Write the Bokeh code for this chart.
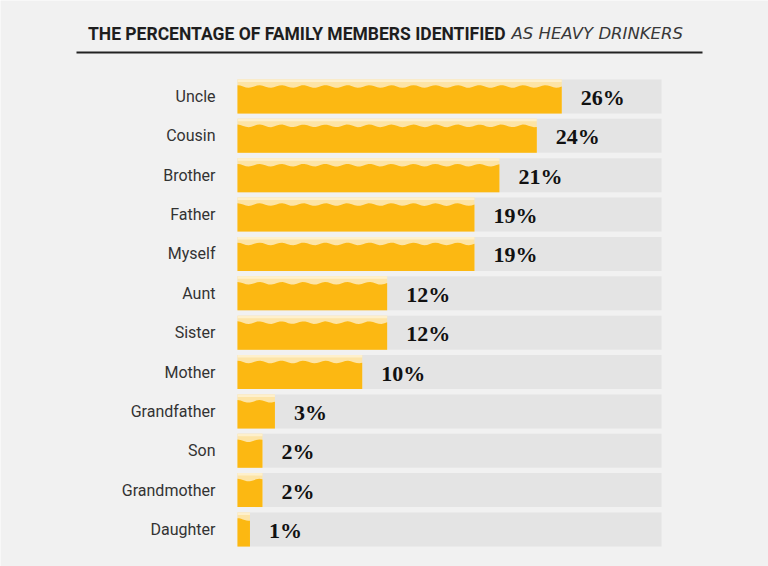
import numpy as np
from bokeh.plotting import figure
from bokeh.models import Range1d, ColumnDataSource
from bokeh.core.properties import value
from bokeh.embed import file_html
from bokeh.resources import INLINE

# ---- data ----
categories = ["Uncle", "Cousin", "Brother", "Father", "Myself", "Aunt", "Sister",
              "Mother", "Grandfather", "Son", "Grandmother", "Daughter"]
percentages = [26, 24, 21, 19, 19, 12, 12, 10, 3, 2, 2, 1]
track_max = 34
title_bold = "THE PERCENTAGE OF FAMILY MEMBERS IDENTIFIED"
title_italic = "AS HEAVY DRINKERS"

# ---- layout constants (pixels) ----
W, H = 768, 566
FRAME_LEFT = 237          # where 0% sits
PX = 424 / track_max      # pixels per percent
ROW_PX = 39.36
ROW0 = 96                 # centre of first row
BAR_PX = 34

x0 = -FRAME_LEFT / PX
x1 = (W - FRAME_LEFT) / PX
y_top = -ROW0 / ROW_PX
y_bot = (H - ROW0) / ROW_PX

BG = "#f1f1f1"
TRACK = "#e4e4e4"
BEER = "#fcb812"
FOAM = "#fde4a6"
FOAM_TOP = "#fef0cc"

p = figure(width=W, height=H, output_backend="svg", toolbar_location=None,
           x_range=Range1d(x0, x1), y_range=Range1d(y_bot, y_top),
           min_border=0, background_fill_color=BG, border_fill_color=BG,
           outline_line_color=None)
p.axis.visible = False
p.grid.visible = False

rows = list(range(len(categories)))
h = BAR_PX / ROW_PX
top_strip = 2.5 / ROW_PX
src = ColumnDataSource(dict(y=rows, cat=categories, val=percentages,
                            half=[v / 2 for v in percentages],
                            lab=[f"{v}%" for v in percentages],
                            ytop=[r - h / 2 + top_strip / 2 for r in rows],
                            tmax=[track_max / 2] * len(rows),
                            tw=[track_max] * len(rows)))

# tracks
p.rect(x="tmax", y="y", width="tw", height=h, source=src,
       fill_color=TRACK, line_color=None)

# beer bars (foam colour underneath, beer body with wavy top on top)
p.rect(x="half", y="y", width="val", height=h, source=src,
       fill_color=FOAM, line_color=None)
p.rect(x="half", y="ytop", width="val", height=top_strip, source=src,
       fill_color=FOAM_TOP, line_color=None)

foam_depth = 7.0 / ROW_PX
amp = 1.3 / ROW_PX
wave_len = 22 / PX
xs, ys = [], []
for r, v in zip(rows, percentages):
    n = max(int(v / wave_len * 8), 8)
    wx = np.linspace(0, v, n)
    wy = r - h / 2 + foam_depth - amp * np.cos(2 * np.pi * wx / wave_len)
    xs.append([0] + list(wx) + [v])
    ys.append([r + h / 2] + list(wy) + [r + h / 2])
p.patches(xs=xs, ys=ys, fill_color=BEER, line_color=None)

# category labels
p.text(x=0, y="y", text="cat", source=src, x_offset=-22,
       text_align="right", text_baseline="middle",
       text_font=value("Roboto"), text_font_size="16px", text_color="#333333")

# value labels
p.text(x="val", y="y", text="lab", source=src, x_offset=19, y_offset=1,
       text_align="left", text_baseline="middle",
       text_font=value("Liberation Serif"), text_font_style="bold",
       text_font_size="22px", text_color="#111111")

# title
ty = (33 - ROW0) / ROW_PX
p.text(x=[(505 - FRAME_LEFT) / PX], y=[ty], text=[title_bold],
       text_align="right", text_baseline="middle",
       text_font=value("Roboto"), text_font_style="bold",
       text_font_size="17.5px", text_color="#1e1e1e")
p.text(x=[(511 - FRAME_LEFT) / PX], y=[ty], text=[title_italic],
       text_align="left", text_baseline="middle",
       text_font=value("DejaVu Sans"), text_font_style="italic",
       text_font_size="16.5px", text_color="#383838")
ly = (52 - ROW0) / ROW_PX
p.line(x=[(76 - FRAME_LEFT) / PX, (702 - FRAME_LEFT) / PX], y=[ly, ly],
       line_color="#222222", line_width=2)

open("out.html", "w").write(file_html(p, INLINE))
